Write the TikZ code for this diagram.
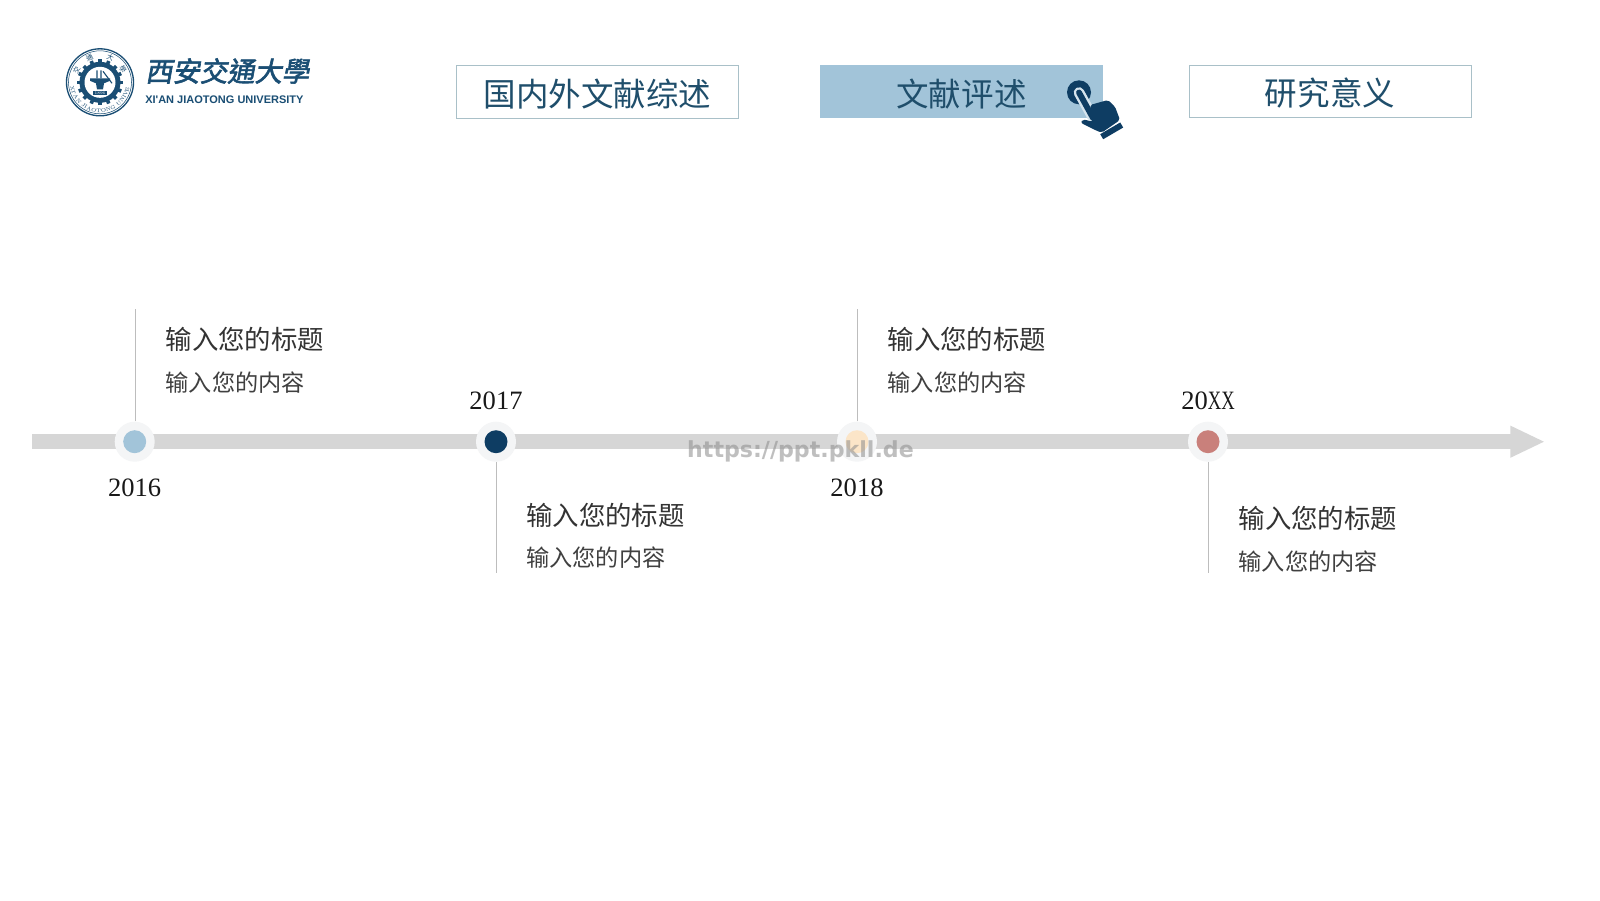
\documentclass[tikz,border=0pt]{standalone}
\usepackage{fontspec}
\usepackage{tikz}
\usetikzlibrary{arrows.meta,positioning,decorations.text}
\newfontfamily\cjk{Noto Sans CJK SC}
\newfontfamily\cjktc{Noto Sans CJK TC}
\newfontfamily\logocjk[FakeSlant=0.18,FakeBold=2.2]{Noto Sans CJK TC}
\newfontfamily\logosans{Liberation Sans}
\newfontfamily\markfont{DejaVu Sans}
\newfontfamily\yearfont{Liberation Serif}
\newfontfamily\yearnarrow[FakeStretch=0.7]{Liberation Serif}
\definecolor{darkblue}{HTML}{0E3D63}
\definecolor{lightblue}{HTML}{A2C4D9}
\definecolor{logoblue}{HTML}{1A4E74}
\definecolor{barcol}{HTML}{D6D6D6}
\definecolor{halocol}{HTML}{F4F5F6}
\definecolor{stemcol}{HTML}{BDBDBD}
\definecolor{framecol}{HTML}{A9C0C8}
\definecolor{tabtext}{HTML}{1F4E6B}
\definecolor{redcol}{HTML}{C9807B}
\definecolor{peachcol}{HTML}{FBE5C8}
\tikzset{
  tab/.style={draw=framecol, line width=0.7pt, minimum width=211.5pt, minimum height=39.5pt,
    inner sep=0pt, text=tabtext, text height=21.6pt, text depth=0pt,
    font=\cjk\fontsize{24.4pt}{28pt}\selectfont},
  halo/.style={circle, fill=halocol, minimum size=30pt, inner sep=0pt},
  dot/.style={circle, minimum size=17.25pt, inner sep=0pt},
  stem/.style={draw=stemcol, line width=0.75pt},
  year/.style={inner sep=0pt, text=black!90, font=\yearfont\fontsize{19.9pt}{24pt}\selectfont},
  headline/.style={anchor=west, inner sep=0pt, text=black!80, font=\cjk\fontsize{19.8pt}{24pt}\selectfont},
  subline/.style={anchor=west, inner sep=0pt, text=black!75, font=\cjk\fontsize{17.4pt}{22pt}\selectfont},
}
\begin{document}
\begin{tikzpicture}[x=0.75pt,y=-0.75pt]
\useasboundingbox (0,0) rectangle (1600,900);
\fill[white] (0,0) rectangle (1600,900);

% logo
\begin{scope}[shift={(100,82.3)},x=0.75pt,y=0.75pt]
\draw[logoblue, line width=1pt] (0,0) circle (33.5);
\draw[logoblue, line width=0.4pt] (0,0) circle (31.5);
\foreach \a in {0,22.5,...,337.5}
  \fill[logoblue, rotate=\a] (-1.8,19) rectangle (1.8,23);
\fill[logoblue] (0,0) circle (20.5);
\fill[white] (0,0) circle (15.5);
\fill[logoblue] (-10,4) -- (10,4) -- (10,1.5) -- (4,-1) -- (3,-7) -- (-3,-7) -- (-4,-1) -- (-10,1.5) -- cycle;
\draw[logoblue, line width=0.8pt] (-3,4) -- (-3,12) (1,4) -- (1,12) (3,11) -- (12,-1);
\node[fill=logoblue, text=white, inner sep=0.4pt, minimum width=10pt, minimum height=3pt,
  font=\fontsize{3pt}{3pt}\selectfont] (plate) at (0,-11) {1896};
\foreach \a/\c in {152/交,113/通,67/大,30/學}
  \node[logoblue, inner sep=0pt, rotate=\a-90, font=\cjktc\fontsize{5.2pt}{6pt}\selectfont] (seal\a) at (\a:26.5) {\c};
\path[postaction={decorate}, decoration={text along path, text align={fit to path},
  text={|\color{logoblue}\fontsize{3.9pt}{4pt}\selectfont|XI'AN JIAOTONG UNIVERSITY}}]
  (188:30) arc (188:352:30);
\end{scope}
\node[anchor=west, inner sep=0pt, text=logoblue, font=\logocjk\fontsize{20.5pt}{24pt}\selectfont] (logoname) at (145,71) {西安交通大學};
\node[anchor=west, inner sep=0pt, text=logoblue, font=\logosans\bfseries\fontsize{8.25pt}{10pt}\selectfont] (logoen) at (145,100) {XI'AN JIAOTONG UNIVERSITY};

% tabs
\node[tab] (tab1) at (597.5,91.8) {国内外文献综述};
\node[tab, draw=none, fill=lightblue, minimum width=212.3pt] (tab2) at (961.5,91.8) {文献评述};
\node[tab] (tab3) at (1330,91.5) {研究意义};

% hand
\fill[darkblue] (1079,92.3) circle (12);
\draw[lightblue!45!white, line width=8pt, line cap=round] (1079,92.5) -- (1092,116);
\draw[darkblue, line width=4.4pt, line cap=round] (1079,92.5) -- (1093,118);
\fill[darkblue, rounded corners=1.5pt] (1090,105) -- (1108,100) -- (1115,106.7)
  -- (1120,120) -- (1101.7,132.7) -- (1095,130) -- (1080.7,122.7) -- (1082.7,119.3) -- (1093,121.7) -- cycle;
\draw[darkblue, line width=4.4pt] (1101.7,136.7) -- (1121.7,125);

% time line
\coordinate (barstart) at (32,441.7);
\coordinate (barend) at (1545,441.7);
\draw[barcol, line width=11.25pt, -{Triangle[length=26pt,width=22pt]}] (barstart) -- (barend);

\node[halo] (m1) at (134.7,441.7) {};
\node[halo] (m2) at (496,441.7) {};
\node[halo] (m3) at (857,441.7) {};
\node[halo] (m4) at (1208,441.7) {};
\node[dot, fill=lightblue] (d1) at (m1) {};
\node[dot, fill=darkblue] (d2) at (m2) {};
\node[dot, fill=peachcol] (d3) at (m3) {};
\node[dot, fill=redcol] (d4) at (m4) {};

\coordinate (top1) at (135.5,309);
\coordinate (bot2) at (496.5,573);
\coordinate (top3) at (857,309);
\coordinate (bot4) at (1208,573);
\draw[stem] (m1.north -| top1) -- (top1);
\draw[stem] (m2.south -| bot2) -- (bot2);
\draw[stem] (m3) -- (top3);
\draw[stem] (m4) -- (bot4);

\node[year] (y1) at (134.7,487.5) {2016};
\node[year] (y2) at (496,400.5) {2017};
\node[year] (y3) at (857,487.5) {2018};
\node[year] (y4) at (1208,400.5) {20{\yearnarrow XX}};

\node[headline] (h1) at (165.5,339) {输入您的标题};
\node[subline] (s1) at (165.5,383) {输入您的内容};
\node[headline] (h2) at (526,515) {输入您的标题};
\node[subline] (s2) at (526,558) {输入您的内容};
\node[headline] (h3) at (887.5,339) {输入您的标题};
\node[subline] (s3) at (887.5,383) {输入您的内容};
\node[headline] (h4) at (1238.5,518) {输入您的标题};
\node[subline] (s4) at (1238.5,562) {输入您的内容};

\node[inner sep=0pt, text=black!45, text opacity=0.55, font=\markfont\bfseries\fontsize{16.6pt}{20pt}\selectfont] (mark) at (800.5,451) {https://ppt.pkll.de};
\end{tikzpicture}
\end{document}
